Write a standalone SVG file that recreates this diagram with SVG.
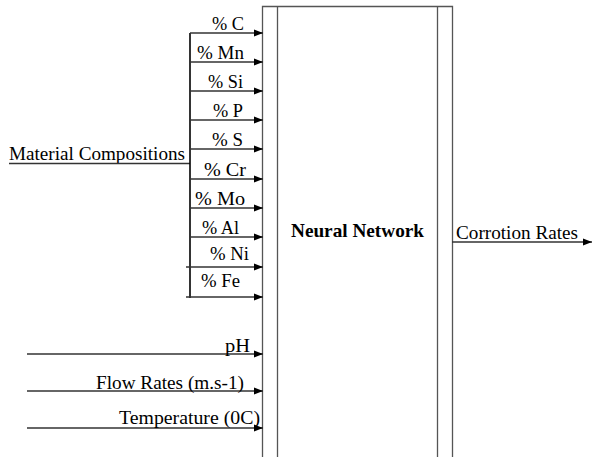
<svg xmlns="http://www.w3.org/2000/svg" width="593" height="457" viewBox="0 0 593 457">
<defs>
<marker id="ah" markerWidth="9" markerHeight="8" refX="9" refY="4" orient="auto" markerUnits="userSpaceOnUse">
<path d="M0,0.5 L9,4 L0,7.5 Z" fill="#000"/>
</marker>
<style>
.t{font-family:"Liberation Serif","Times New Roman",serif;font-size:19px;fill:#000}
.b{font-weight:bold}
.ln{stroke:#333;stroke-width:1.3;fill:none}
.ar{stroke:#333;stroke-width:1.3;fill:none;marker-end:url(#ah)}
.bx{stroke:#555;stroke-width:1.3;fill:none}
</style>
</defs>
<rect width="593" height="457" fill="#fff"/>
<g id="neural-network">
<path class="bx" d="M262.5,460 V6.5 H452.5 V460"/>
<line class="bx" x1="277.5" y1="6.5" x2="277.5" y2="460"/>
<line class="bx" x1="437.5" y1="6.5" x2="437.5" y2="460"/>
<text class="t b" x="291" y="237" textLength="133" lengthAdjust="spacingAndGlyphs">Neural Network</text>
</g>
<g id="material-compositions">
<text class="t" x="9" y="160" textLength="176" lengthAdjust="spacingAndGlyphs">Material Compositions</text>
<line class="ln" x1="9" y1="163.5" x2="190" y2="163.5"/>
</g>
<g id="connectors">
<line x1="190" y1="33" x2="190" y2="298" stroke="#000" stroke-width="1.6"/>
<line class="ar" x1="190" y1="33" x2="263" y2="33"/>
<line class="ar" x1="190" y1="62" x2="263" y2="62"/>
<line class="ar" x1="190" y1="91" x2="263" y2="91"/>
<line class="ar" x1="190" y1="120" x2="263" y2="120"/>
<line class="ar" x1="190" y1="149" x2="263" y2="149"/>
<line class="ar" x1="190" y1="179" x2="263" y2="179"/>
<line class="ar" x1="190" y1="208" x2="263" y2="208"/>
<line class="ar" x1="190" y1="237" x2="263" y2="237"/>
<line class="ar" x1="186" y1="267" x2="263" y2="267"/>
<line class="ar" x1="186" y1="297" x2="263" y2="297"/>
<line class="ar" x1="27" y1="354" x2="263" y2="354"/>
<line class="ar" x1="27" y1="391" x2="263" y2="391"/>
<line class="ar" x1="27" y1="428" x2="263" y2="428"/>
<line class="ar" x1="452" y1="242" x2="592" y2="242"/>
</g>
<g id="labels">
<text class="t" x="212" y="30" textLength="32" lengthAdjust="spacingAndGlyphs">% C</text>
<text class="t" x="197" y="59" textLength="47" lengthAdjust="spacingAndGlyphs">% Mn</text>
<text class="t" x="208" y="88" textLength="35" lengthAdjust="spacingAndGlyphs">% Si</text>
<text class="t" x="213" y="117" textLength="30" lengthAdjust="spacingAndGlyphs">% P</text>
<text class="t" x="212" y="146" textLength="31" lengthAdjust="spacingAndGlyphs">% S</text>
<text class="t" x="204" y="176" textLength="42" lengthAdjust="spacingAndGlyphs">% Cr</text>
<text class="t" x="195" y="205" textLength="50" lengthAdjust="spacingAndGlyphs">% Mo</text>
<text class="t" x="202" y="234" textLength="37" lengthAdjust="spacingAndGlyphs">% Al</text>
<text class="t" x="210" y="260" textLength="39" lengthAdjust="spacingAndGlyphs">% Ni</text>
<text class="t" x="201" y="287" textLength="39" lengthAdjust="spacingAndGlyphs">% Fe</text>
<text class="t" x="225" y="352" textLength="25" lengthAdjust="spacingAndGlyphs">pH</text>
<text class="t" x="96" y="389" textLength="148" lengthAdjust="spacingAndGlyphs">Flow Rates (m.s-1)</text>
<text class="t" x="119" y="424" textLength="141" lengthAdjust="spacingAndGlyphs">Temperature (0C)</text>
<text class="t" x="456" y="239" textLength="122" lengthAdjust="spacingAndGlyphs">Corrotion Rates</text>
</g>
</svg>
